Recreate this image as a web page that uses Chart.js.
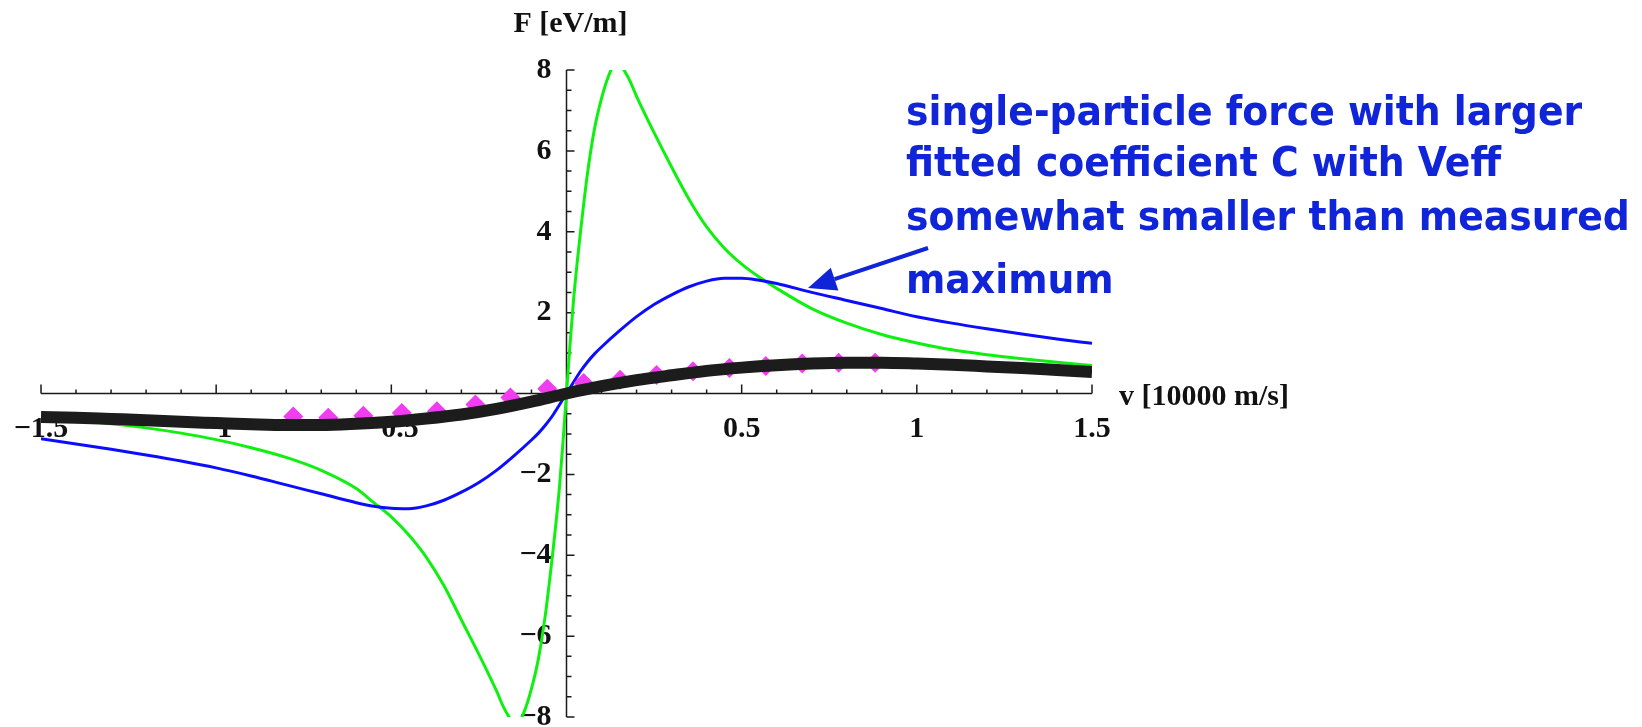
<!DOCTYPE html>
<html>
<head>
<meta charset="utf-8">
<title>F(v) force curves</title>
<script src="https://cdn.jsdelivr.net/npm/chart.js@4.4.1/dist/chart.umd.min.js"></script>
<style>
  html, body { margin: 0; padding: 0; background: #fff; }
  #wrap { position: relative; width: 1642px; height: 727px; overflow: hidden; }
  #plot { position: absolute; left: 0; top: 0; }
  .note {
    position: absolute;
    left: 906px;
    font: bold 41px "DejaVu Sans", "Liberation Sans", sans-serif;
    line-height: 1;
    color: #1024d8;
    white-space: nowrap;
    transform-origin: 0 0;
  }
</style>
</head>
<body>
<div id="wrap">
  <canvas id="plot" width="1642" height="727"></canvas>
  <div class="note" style="top:91px">single-particle force with larger</div>
  <div class="note" style="top:142px">fitted coefficient C with Veff</div>
  <div class="note" style="top:196px" id="longest">somewhat smaller than measured</div>
  <div class="note" style="top:259px">maximum</div>
</div>
<script>
// ── Data ──────────────────────────────────────────────────────────────────────

// green: single-particle force, small fitted coefficient
const greenV = [-1.5, -1.4, -1.3, -1.2, -1.1, -1.0, -0.9, -0.8, -0.7, -0.6, -0.55, -0.5, -0.45, -0.4,
  -0.35, -0.3, -0.25, -0.2, -0.18, -0.16, -0.15, -0.14, -0.12, -0.1, -0.08, -0.06, -0.04, -0.03,
  -0.02, -0.01, -0.005, 0, 0.005, 0.01, 0.02, 0.03, 0.04, 0.06, 0.08, 0.1, 0.12, 0.14, 0.15, 0.16,
  0.18, 0.2, 0.25, 0.3, 0.35, 0.4, 0.45, 0.5, 0.55, 0.6, 0.7, 0.8, 0.9, 1.0, 1.1, 1.2, 1.3, 1.4, 1.5];
const greenF = [-0.6, -0.67, -0.75, -0.85, -0.98, -1.14, -1.34, -1.58, -1.9, -2.35, -2.7, -3.05,
  -3.5, -4.05, -4.75, -5.6, -6.45, -7.35, -7.75, -8.05, -8.15, -8.15, -7.85, -7.3, -6.55, -5.45, -4.0,
  -3.2, -2.3, -1.2, -0.6, 0, 0.6, 1.2, 2.3, 3.2, 4.0, 5.45, 6.55, 7.3, 7.85, 8.15, 8.15, 8.05, 7.75,
  7.35, 6.45, 5.6, 4.8, 4.12, 3.6, 3.2, 2.88, 2.6, 2.1, 1.74, 1.46, 1.25, 1.08, 0.96, 0.86, 0.77, 0.69];

// blue: single-particle force with larger fitted coefficient C
const blueV = [-1.5, -1.4, -1.3, -1.2, -1.1, -1.0, -0.9, -0.8, -0.7, -0.6, -0.55, -0.5, -0.45, -0.4,
  -0.35, -0.3, -0.25, -0.2, -0.15, -0.1, -0.08, -0.06, -0.04, -0.02, 0, 0.02, 0.04, 0.06, 0.08, 0.1,
  0.15, 0.2, 0.25, 0.3, 0.35, 0.4, 0.45, 0.5, 0.55, 0.6, 0.7, 0.8, 0.9, 1.0, 1.1, 1.2, 1.3, 1.4, 1.5];
const blueF = [-1.12, -1.25, -1.38, -1.52, -1.67, -1.84, -2.04, -2.26, -2.48, -2.7, -2.79, -2.84, -2.85,
  -2.78, -2.64, -2.44, -2.2, -1.9, -1.54, -1.15, -0.98, -0.78, -0.55, -0.28, 0, 0.28, 0.55, 0.78, 0.98,
  1.15, 1.54, 1.9, 2.2, 2.44, 2.64, 2.78, 2.85, 2.85, 2.8, 2.72, 2.5, 2.3, 2.1, 1.9, 1.74, 1.6, 1.47,
  1.35, 1.24];

// black: fit to measured data
const blackV = [-1.5, -1.4, -1.3, -1.2, -1.1, -1.0, -0.9, -0.8, -0.7, -0.6, -0.5, -0.4, -0.3, -0.2,
  -0.1, 0, 0.1, 0.2, 0.3, 0.4, 0.5, 0.6, 0.7, 0.8, 0.9, 1.0, 1.1, 1.2, 1.3, 1.4, 1.5];
const blackF = [-0.58, -0.6, -0.63, -0.66, -0.7, -0.73, -0.76, -0.78, -0.78, -0.75, -0.7, -0.62,
  -0.52, -0.38, -0.2, 0, 0.18, 0.33, 0.45, 0.56, 0.64, 0.7, 0.74, 0.76, 0.76, 0.74, 0.71, 0.67, 0.63,
  0.58, 0.53];

// magenta diamonds: measured points
const pointV = [-0.78, -0.68, -0.58, -0.47, -0.37, -0.26, -0.16, -0.055, 0.049, 0.153, 0.257,
  0.361, 0.465, 0.569, 0.673, 0.777, 0.881];
const pointF = [-0.57, -0.6, -0.55, -0.48, -0.44, -0.27, -0.1, 0.12, 0.26, 0.34, 0.46, 0.55, 0.63,
  0.68, 0.74, 0.76, 0.76];

// axes
const X_MIN = -1.5, X_MAX = 1.5, Y_MIN = -8, Y_MAX = 8;
const xTickValues = [-1.5, -1, -0.5, 0.5, 1, 1.5];
const xTickLabels = ["\u22121.5", "\u22121", "\u22120.5", "0.5", "1", "1.5"];
const yTickValues = [8, 6, 4, 2, -2, -4, -6, -8];
const yTickLabels = ["8", "6", "4", "2", "\u22122", "\u22124", "\u22126", "\u22128"];
const X_TITLE = "v [10000 m/s]";
const Y_TITLE = "F [eV/m]";

// ── Helpers ───────────────────────────────────────────────────────────────────

const AXIS_COLOR = "#1a1a1a";
const LABEL_FONT = 'bold 30px "Liberation Serif", "DejaVu Serif", serif';

function toXY(xs, ys) {
  return xs.map((v, i) => ({ x: v, y: ys[i] }));
}

// Mathematica-style axes crossing at the origin, ticks pointing into the plot
const originAxes = {
  id: "originAxes",
  beforeDatasetsDraw(chart) {
    const { ctx, scales: { x, y } } = chart;
    const x0 = x.getPixelForValue(0);
    const y0 = y.getPixelForValue(0);
    ctx.save();
    ctx.strokeStyle = AXIS_COLOR;
    ctx.lineWidth = 1.5;

    ctx.beginPath();
    ctx.moveTo(x.getPixelForValue(X_MIN), y0);
    ctx.lineTo(x.getPixelForValue(X_MAX), y0);
    ctx.moveTo(x0, y.getPixelForValue(Y_MAX));
    ctx.lineTo(x0, y.getPixelForValue(Y_MIN));

    // x ticks every 0.1, major every 0.5
    for (let k = -15; k <= 15; k++) {
      if (k === 0) continue;
      const px = x.getPixelForValue(k / 10);
      const len = k % 5 === 0 ? 9 : 4;
      ctx.moveTo(px, y0);
      ctx.lineTo(px, y0 - len);
    }
    // y ticks every 0.5, major every 2
    for (let k = -16; k <= 16; k++) {
      if (k === 0) continue;
      const py = y.getPixelForValue(k / 2);
      const len = k % 4 === 0 ? 8 : 5;
      ctx.moveTo(x0, py);
      ctx.lineTo(x0 + len, py);
    }
    ctx.stroke();

    ctx.fillStyle = "#111";
    ctx.font = LABEL_FONT;
    ctx.textBaseline = "middle";
    ctx.textAlign = "center";
    xTickValues.forEach((v, i) => ctx.fillText(xTickLabels[i], x.getPixelForValue(v), y0 + 36));
    ctx.textAlign = "right";
    yTickValues.forEach((v, i) => ctx.fillText(yTickLabels[i], x0 - 15, y.getPixelForValue(v)));

    ctx.textAlign = "center";
    ctx.fillText(Y_TITLE, x0 + 4, 24);
    ctx.textAlign = "left";
    ctx.fillText(X_TITLE, x.right + 27, y0 + 4);
    ctx.restore();
  },
  afterDraw(chart) {
    // annotation arrow pointing at the blue curve
    const { ctx } = chart;
    const tail = [928, 248], tip = [808, 288];
    const ang = Math.atan2(tip[1] - tail[1], tip[0] - tail[0]);
    const headLen = 28, headHalf = 12;
    const bx = tip[0] - headLen * Math.cos(ang), by = tip[1] - headLen * Math.sin(ang);
    ctx.save();
    ctx.strokeStyle = "#1024d8";
    ctx.fillStyle = "#1024d8";
    ctx.lineWidth = 4;
    ctx.beginPath();
    ctx.moveTo(tail[0], tail[1]);
    ctx.lineTo(bx, by);
    ctx.stroke();
    ctx.beginPath();
    ctx.moveTo(tip[0], tip[1]);
    ctx.lineTo(bx + headHalf * Math.sin(ang), by - headHalf * Math.cos(ang));
    ctx.lineTo(bx - headHalf * Math.sin(ang), by + headHalf * Math.cos(ang));
    ctx.closePath();
    ctx.fill();
    ctx.restore();
  },
};

// ── Chart ─────────────────────────────────────────────────────────────────────

new Chart(document.getElementById("plot"), {
  type: "scatter",
  data: {
    datasets: [
      {
        label: "fit",
        data: toXY(blackV, blackF),
        showLine: true,
        borderColor: "#1c1c1c",
        borderWidth: 12,
        pointRadius: 0,
        cubicInterpolationMode: "monotone",
        order: 0,
      },
      {
        label: "measured",
        data: toXY(pointV, pointF),
        showLine: false,
        pointStyle: "rectRot",
        pointRadius: 10,
        backgroundColor: "#f23cf2",
        borderWidth: 0,
        order: 1,
      },
      {
        label: "larger C",
        data: toXY(blueV, blueF),
        showLine: true,
        borderColor: "#0c0cff",
        borderWidth: 3,
        pointRadius: 0,
        cubicInterpolationMode: "monotone",
        order: 2,
      },
      {
        label: "smaller C",
        data: toXY(greenV, greenF),
        showLine: true,
        borderColor: "#10f010",
        borderWidth: 3,
        pointRadius: 0,
        cubicInterpolationMode: "monotone",
        clip: 0,
        order: 3,
      },
    ],
  },
  options: {
    responsive: false,
    animation: false,
    devicePixelRatio: 1,
    layout: { padding: { left: 41, right: 550, top: 70, bottom: 9 } },
    scales: {
      x: { type: "linear", min: X_MIN, max: X_MAX, display: false },
      y: { type: "linear", min: Y_MIN, max: Y_MAX, display: false },
    },
    plugins: { legend: { display: false }, tooltip: { enabled: false } },
  },
  plugins: [originAxes],
});

// squeeze the annotation so its longest line spans the same width as in the slide
(function fitNote() {
  const target = 724;
  const w = document.getElementById("longest").getBoundingClientRect().width;
  const s = target / w;
  document.querySelectorAll(".note").forEach((el) => {
    el.style.transform = "scaleX(" + s.toFixed(3) + ")";
  });
})();
</script>
</body>
</html>
